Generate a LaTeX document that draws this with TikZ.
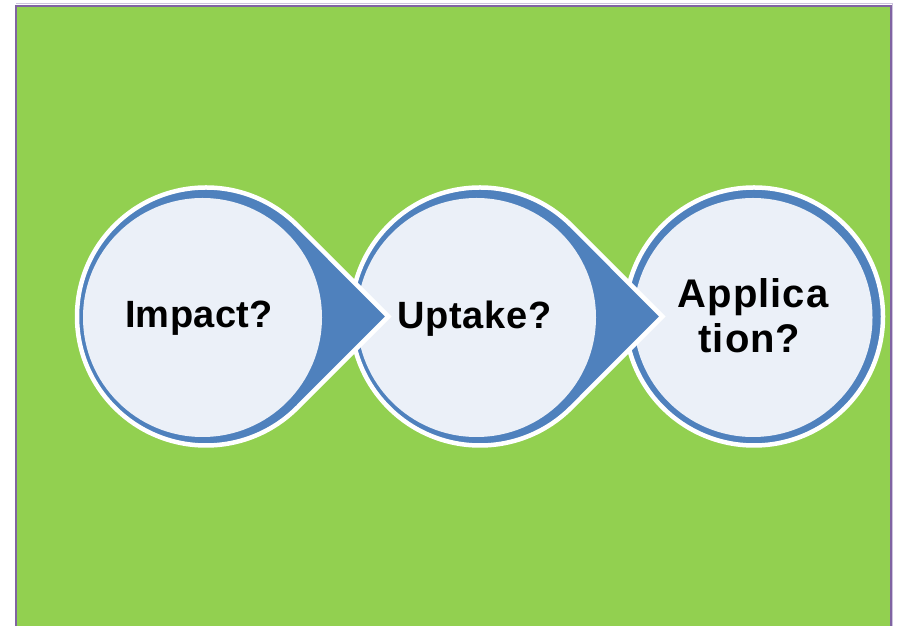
\documentclass[tikz,border=0pt]{standalone}
\usepackage{fontspec}
\setmainfont{Liberation Sans}
\definecolor{bgGreen}{RGB}{146,208,80}
\definecolor{frameP}{RGB}{128,100,162}
\definecolor{frameL}{RGB}{205,195,222}
\definecolor{ringBlue}{RGB}{79,129,189}
\definecolor{innerLight}{RGB}{235,240,248}
\begin{document}
\begin{tikzpicture}[x=1pt,y=1pt,
  arrowshape/.style={fill=ringBlue, draw=white, line width=4.5pt, line join=miter},
  innercirc/.style={fill=innerLight},
  txt/.style={font=\fontsize{38}{45}\selectfont\bfseries, anchor=base, inner sep=0pt, text=black},
  bigtxt/.style={txt, font=\fontsize{40}{45}\selectfont\bfseries}]
\useasboundingbox (0,0) rectangle (897,626);
\begin{scope}
  \clip (0,0) rectangle (897,626);
  \fill[bgGreen] (16,-10) rectangle (891,620);
  \draw[frameL, line width=1pt] (16,622) -- (892.5,622) -- (892.5,-10);
  \draw[frameP, line width=2.5pt] (16,-10) -- (16,620) -- (891,620) -- (891,-10);
\end{scope}
% shape 3
\draw[arrowshape] (754,309.5) circle[radius=129];
\fill[innercirc] (753,308.5) circle[radius=119.5];
% shape 2
\draw[arrowshape] (662.4,309.5) -- ([shift={(45:129)}]480,309.5)
   arc[start angle=45, end angle=315, radius=129] -- cycle;
\fill[innercirc] (476.5,308.5) circle[radius=119.5];
% shape 1
\draw[arrowshape] (388.4,309.5) -- ([shift={(45:129)}]206,309.5)
   arc[start angle=45, end angle=315, radius=129] -- cycle;
\fill[innercirc] (202.5,308.5) circle[radius=119.5];
% labels
\node[txt] (impact) at (199,298) {\addfontfeature{LetterSpace=1}Impact?};
\node[txt] (uptake) at (474.5,297) {\addfontfeature{LetterSpace=2}Uptake?};
\node[bigtxt] (appl1) at (753,318) {\addfontfeature{LetterSpace=2.5}Applica};
\node[bigtxt] (appl2) at (749.5,273) {\addfontfeature{LetterSpace=2.5}tion?};
\end{tikzpicture}
\end{document}
